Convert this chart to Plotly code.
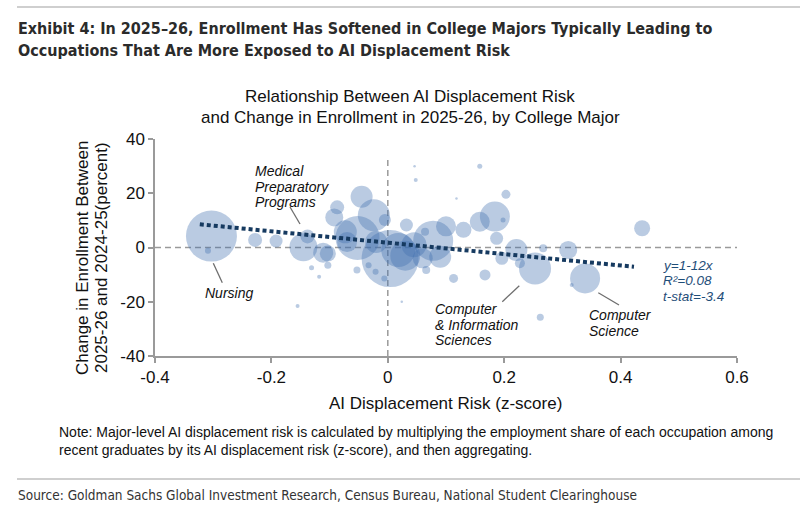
import plotly.graph_objects as go

# ---------------- data ----------------
risk = [-0.303, -0.309, -0.228, -0.192, -0.145, -0.138, -0.111, -0.131, -0.118, -0.103,
        -0.155, -0.087, -0.092, -0.045, -0.052, -0.024, 0.004, -0.005, 0.032, 0.078,
        0.018, 0.100, 0.130, 0.158, 0.090, 0.113, 0.048, 0.046, 0.118, -0.053,
        -0.033, 0.066, 0.064, 0.158, 0.203, 0.184, 0.198, 0.187, 0.221, 0.227,
        0.196, 0.253, 0.267, 0.310, 0.339, 0.316, 0.167, 0.262, 0.437, -0.073,
        0.030, 0.045, -0.020, 0.060, -0.070, -0.021, 0.024, -0.103, -0.006]
enroll = [4.2, -1.2, 2.8, 2.4, 0.1, 4.1, -1.9, -7.5, -10.8, -6.5,
          -21.6, 14.8, 11.1, 18.7, 3.5, 11.9, -4.1, 10.1, 8.3, 2.5,
          -0.9, 7.8, 6.5, 9.5, -3.4, -11.4, 24.9, 30.0, 18.1, -8.3,
          -6.5, -8.3, 5.8, 30.0, 19.6, 11.4, 10.1, 3.4, -0.9, -5.8,
          -4.0, -7.7, -0.3, -0.9, -11.4, -13.8, -10.1, -25.7, 7.1, 5.8,
          -3.0, 1.0, 2.0, -4.0, 2.0, -8.9, -20.0, -2.2, -11.4]
size = [51, 6, 14, 13, 28, 14, 20, 5, 4, 7,
        4, 14, 18, 22, 44, 32, 57, 12, 13, 40,
        34, 20, 16, 20, 22, 9, 4, 2.5, 2.5, 7,
        6, 8, 8, 5, 9, 30, 5, 13, 22, 10,
        13, 32, 8, 18, 30, 4, 11, 7, 16, 23,
        30, 25, 22, 20, 20, 6, 2.5, 16, 6]

trend_x = [-0.323, 0.423]
trend_y = [8.55, -7.1]

x_ticks = [-0.4, -0.2, 0, 0.2, 0.4, 0.6]
x_labels = ["-0.4", "-0.2", "0", "0.2", "0.4", "0.6"]
y_ticks = [-40, -20, 0, 20, 40]
y_labels = ["-40", "-20", "0", "20", "40"]

# ---------------- figure ----------------
W, H = 800, 513
L, R, T, B = 155, 63, 139, 157
PW, PH = W - L - R, H - T - B


def px(x):
    return (x - L) / PW


def py(y):
    return (H - B - y) / PH


fig = go.Figure()
fig.add_trace(go.Scatter(
    x=risk, y=enroll, mode="markers",
    marker=dict(size=size, sizemode="diameter", color="#3F6FAE", opacity=0.36,
                line=dict(width=0)),
    hoverinfo="skip", showlegend=False))

fig.add_trace(go.Scatter(
    x=trend_x, y=trend_y, mode="lines",
    line=dict(color="#163A60", width=4, dash="4px,3px"),
    hoverinfo="skip", showlegend=False))

# reference lines
fig.add_shape(type="line", xref="x", yref="y", x0=-0.4, x1=0.6, y0=0, y1=0,
              line=dict(color="#9A9A9A", width=1.5, dash="6px,4px"), layer="below")
fig.add_shape(type="line", xref="x", yref="y", x0=0, x1=0, y0=-40, y1=33,
              line=dict(color="#9A9A9A", width=1.5, dash="6px,4px"), layer="below")

# separators
fig.add_shape(type="line", xref="paper", yref="paper", x0=px(17), x1=px(800),
              y0=py(7), y1=py(7), line=dict(color="#CFCFCF", width=2))
fig.add_shape(type="line", xref="paper", yref="paper", x0=px(17), x1=px(800),
              y0=py(479), y1=py(479), line=dict(color="#CFCFCF", width=2))

TITLE_FONT = "DejaVu Sans Condensed, Liberation Sans Narrow, Roboto, sans-serif"
ARIAL = "Liberation Sans, Arial, sans-serif"


def text(x, y, s, size=14, color="#111111", family=ARIAL, anchor="left", angle=0):
    fig.add_annotation(xref="paper", yref="paper", x=px(x), y=py(y), text=s,
                       showarrow=False, xanchor=anchor, yanchor="middle",
                       textangle=angle, font=dict(size=size, color=color, family=family))


# title
text(16, 28, "<b>Exhibit 4: In 2025–26, Enrollment Has Softened in College Majors Typically Leading to</b>",
     size=16, color="#2B2B2B", family=TITLE_FONT)
text(16, 50, "<b>Occupations That Are More Exposed to AI Displacement Risk</b>",
     size=16, color="#2B2B2B", family=TITLE_FONT)

# subtitle
text(410, 97, "Relationship Between AI Displacement Risk", size=17, anchor="center")
text(410, 117, "and Change in Enrollment in 2025-26, by College Major", size=17, anchor="center")

# axis titles
text(445, 403, "AI Displacement Risk (z-score)", size=17, anchor="center")
text(82, 258, "Change in Enrollment Between", size=17, anchor="center", angle=-90)
text(101, 258, "2025-26 and 2024-25(percent)", size=17, anchor="center", angle=-90)

# note & source
text(57, 432, "Note: Major-level AI displacement risk is calculated by multiplying the employment share of each occupation among",
     size=14)
text(57, 450, "recent graduates by its AI displacement risk (z-score), and then aggregating.", size=14)
text(16, 495, "Source: Goldman Sachs Global Investment Research, Census Bureau, National Student Clearinghouse",
     size=13.5, color="#333333", family=TITLE_FONT)

# in-plot labels
for s, yy in zip(["Medical", "Preparatory", "Programs"], [171, 186.5, 202]):
    text(252.7, yy, "<i>%s</i>" % s, size=14)
text(202.7, 293.3, "<i>Nursing</i>", size=14)
for s, yy in zip(["Computer", "&amp; Information", "Sciences"], [309.3, 324.8, 340.3]):
    text(433.3, yy, "<i>%s</i>" % s, size=14)
for s, yy in zip(["Computer", "Science"], [315, 330.7]):
    text(586.7, yy, "<i>%s</i>" % s, size=14)
for s, yy in zip(["y=1-12x", "R²=0.08", "t-stat=-3.4"], [265, 280.5, 296]):
    text(661, yy, "<i>%s</i>" % s, size=13.5, color="#1F4E79")

# leader lines
for (x0, y0, x1, y1) in [(290, 207, 300, 224), (213.3, 263.3, 222.3, 282.7),
                         (502.3, 301.7, 519.3, 285.7), (598.3, 292.7, 619, 305)]:
    fig.add_shape(type="line", xref="paper", yref="paper", x0=px(x0), y0=py(y0),
                  x1=px(x1), y1=py(y1), line=dict(color="#6E6E6E", width=1.3))

axis_common = dict(showgrid=False, zeroline=False, showline=True, linecolor="#9A9A9A",
                   linewidth=1.5, ticks="outside", tickcolor="#9A9A9A", ticklen=5,
                   tickwidth=1.5, tickfont=dict(size=17, color="#111111", family=ARIAL))
fig.update_xaxes(range=[-0.4, 0.6], tickvals=x_ticks, ticktext=x_labels, **axis_common)
fig.update_yaxes(range=[-40, 40], tickvals=y_ticks, ticktext=y_labels, **axis_common)

fig.update_layout(width=W, height=H, margin=dict(l=L, r=R, t=T, b=B),
                  plot_bgcolor="white", paper_bgcolor="white", showlegend=False)

fig.write_html("out.html")
